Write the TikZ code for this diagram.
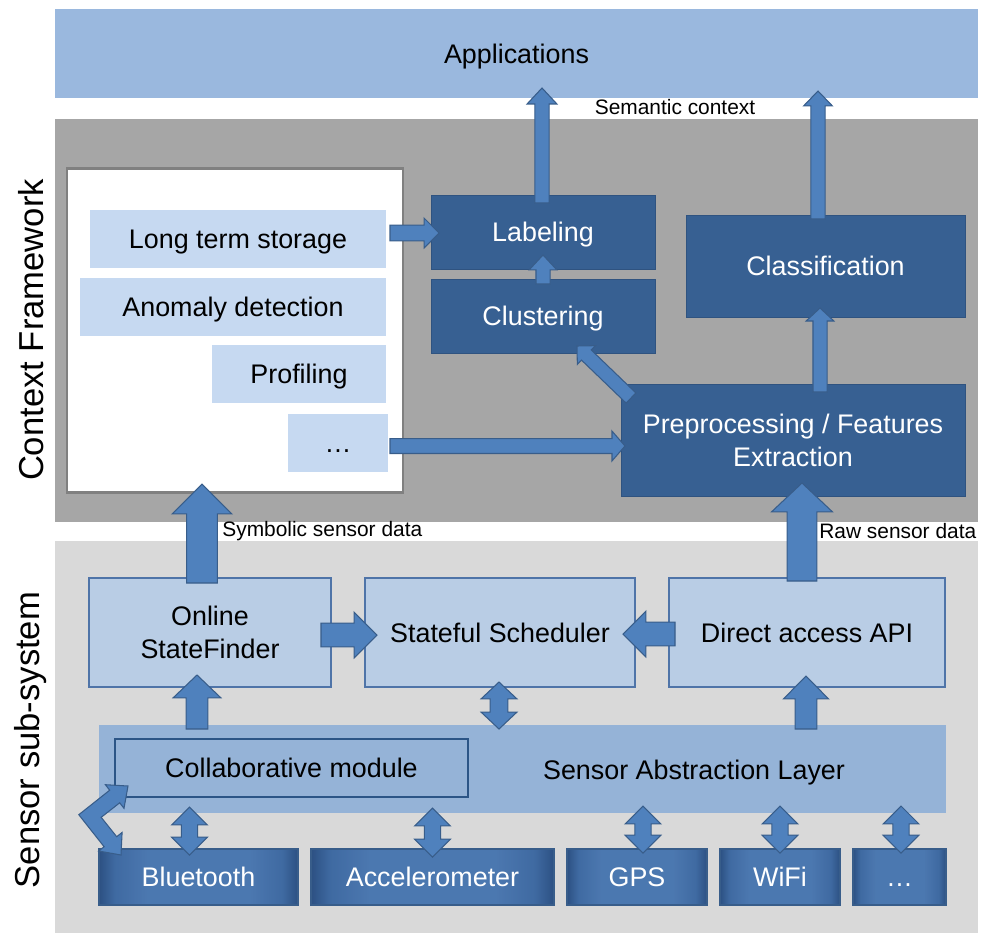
\documentclass[tikz,border=0pt]{standalone}
\usepackage{fontspec}
\setmainfont{Liberation Sans}
\usetikzlibrary{calc,fadings}
\definecolor{appC}{HTML}{9AB8DE}
\definecolor{salC}{HTML}{95B3D7}
\definecolor{cfC}{HTML}{A6A6A6}
\definecolor{ssC}{HTML}{D9D9D9}
\definecolor{storeC}{HTML}{C6D9F1}
\definecolor{darkC}{HTML}{376092}
\definecolor{darkB}{HTML}{2F5380}
\definecolor{lbC}{HTML}{B9CDE5}
\definecolor{lbB}{HTML}{4F74A8}
\definecolor{arrC}{HTML}{4F81BD}
\definecolor{arrB}{HTML}{385D8A}
\definecolor{colB}{HTML}{2C5586}
\definecolor{wbB}{HTML}{808080}
\definecolor{sensC}{HTML}{5F90CC}
\definecolor{sensM}{HTML}{4B7AB5}
\definecolor{sensE}{HTML}{2D5183}
\definecolor{sensB}{HTML}{385D8A}
\pgfdeclarehorizontalshading{sensorsh}{100bp}{color(0bp)=(sensE); color(25bp)=(sensE); color(29bp)=(sensM); color(37bp)=(sensC); color(63bp)=(sensC); color(71bp)=(sensM); color(75bp)=(sensE); color(100bp)=(sensE)}
\tikzfading[name=vfade, top color=transparent!62, middle color=transparent!100, bottom color=transparent!62]
\newcommand\fmain{\fontsize{15.3}{18.6}\selectfont}
\newcommand\fsmall{\fontsize{11.9}{14}\selectfont}
\newcommand\fbig{\fontsize{19.7}{24}\selectfont}
\newcommand\mybox[7][]{\node[#1, minimum width={(#4-#2)*0.02cm}, minimum height={(#5-#3)*0.02cm}] (#6) at ({(#2+#4)/2},{(#3+#5)/2}) {#7};}
% single block arrow: start, end, half shaft, half head, head length
\newcommand\barrow[5]{%
  \coordinate (ba-h) at ($(#2)!#5!(#1)$);
  \filldraw[blockarrow] ($(#1)!#3!90:(#2)$) -- ($(ba-h)!#3!90:(#2)$) -- ($(ba-h)!#4!90:(#2)$) -- (#2) -- ($(ba-h)!#4!-90:(#2)$) -- ($(ba-h)!#3!-90:(#2)$) -- ($(#1)!#3!-90:(#2)$) -- cycle;}
% double block arrow
\newcommand\dbarrow[5]{%
  \coordinate (da-a) at ($(#1)!#5!(#2)$);
  \coordinate (da-b) at ($(#2)!#5!(#1)$);
  \filldraw[blockarrow] (#1) -- ($(da-a)!#4!90:(#2)$) -- ($(da-a)!#3!90:(#2)$) -- ($(da-b)!#3!90:(#2)$) -- ($(da-b)!#4!90:(#2)$) -- (#2) -- ($(da-b)!#4!-90:(#2)$) -- ($(da-b)!#3!-90:(#2)$) -- ($(da-a)!#3!-90:(#2)$) -- ($(da-a)!#4!-90:(#2)$) -- cycle;}
\begin{document}
\begin{tikzpicture}[x=0.02cm, y=-0.02cm,
  band/.style={inner sep=0, outer sep=0},
  lightbox/.style={fill=storeC, inner sep=0, outer sep=0, font=\fmain, align=center, text depth=0pt},
  darkbox/.style={fill=darkC, draw=darkB, line width=0.5pt, inner sep=0, outer sep=0, text=white, font=\fmain, align=center, text depth=0pt},
  ssbox/.style={fill=lbC, draw=lbB, line width=0.8pt, inner sep=0, outer sep=0, font=\fmain, align=center, text depth=0pt},
  sensorbox/.style={shade, shading=sensorsh, draw=sensB, line width=0.6pt, inner sep=0, outer sep=0, text=white, font=\fmain, text depth=0pt,
    path picture={\fill[sensE, path fading=vfade] (path picture bounding box.south west) rectangle (path picture bounding box.north east);}},
  dotsbox/.style={text height=11pt},
  blockarrow/.style={fill=arrC, draw=arrB, line width=0.6pt, line join=miter},
  smalltext/.style={font=\fsmall, inner sep=0},
  sidetext/.style={font=\fbig, rotate=90, inner sep=0}]
\useasboundingbox (0,0) rectangle (981,934);
% bands
\mybox[band, fill=appC, font=\fmain, text depth=0pt]{55}{9}{978}{98}{app}{Applications}
\mybox[band, fill=cfC]{55}{119}{978}{522}{cfband}{}
\mybox[band, fill=ssC]{55}{541}{978}{933}{ssband}{}
\node[sidetext] (cflabel) at (31,330) {Context Framework};
\node[sidetext] (sslabel) at (31,740) {Sensor sub-system};
% context framework
\mybox[band, fill=white, draw=wbB, line width=1.7pt]{67}{168}{403}{492}{wb}{}
\mybox[lightbox]{90}{210}{386}{268}{lts}{Long term storage}
\mybox[lightbox]{80}{278}{386}{336}{ad}{Anomaly detection}
\mybox[lightbox]{212}{345}{386}{403}{prof}{Profiling}
\mybox[lightbox, dotsbox]{288}{414}{388}{472}{dots}{…}
\mybox[darkbox]{431}{195}{655}{269}{lab}{Labeling}
\mybox[darkbox]{431}{279}{655}{353}{clu}{Clustering}
\mybox[darkbox]{686}{215}{965}{317}{cls}{Classification}
\mybox[darkbox]{621}{384}{965}{496}{pre}{Preprocessing / Features\\Extraction}
% sensor sub-system
\mybox[ssbox]{89}{578}{331}{687}{osf}{Online\\StateFinder}
\mybox[ssbox]{365}{578}{635}{687}{sch}{Stateful Scheduler}
\mybox[ssbox]{669}{578}{945}{687}{dir}{Direct access API}
\mybox[band, fill=salC]{99}{725}{946}{813}{sal}{}
\node[font=\fmain, inner sep=0, text depth=0pt] (saltext) at (694,770) {Sensor Abstraction Layer};
\mybox[band, fill=salC, draw=colB, line width=1.3pt, font=\fmain, text depth=0pt]{115}{739}{468}{797}{col}{Collaborative module}
\mybox[sensorbox]{99}{849}{298}{905}{bt}{Bluetooth}
\mybox[sensorbox]{311}{849}{554}{905}{acc}{Accelerometer}
\mybox[sensorbox]{567}{849}{707}{905}{gps}{GPS}
\mybox[sensorbox]{720}{849}{840}{905}{wifi}{WiFi}
\mybox[sensorbox, dotsbox]{853}{849}{946}{905}{sdots}{…}
% labels
\node[smalltext] (semlbl) at (675,107) {Semantic context};
\node[smalltext, anchor=west] (symlbl) at (222,531) {Symbolic sensor data};
\node[smalltext, anchor=west] (rawlbl) at (819,531) {Raw sensor data};
% connector end points
\coordinate (labA) at ($(lab.north)+(-1,8)$);
\coordinate (labB) at ($(lab.north |- app.south)+(-1,-10)$);
\coordinate (clsA) at ($(cls.north)+(-7.5,4)$);
\coordinate (clsB) at ($(cls.north |- app.south)+(-7.5,-7)$);
\coordinate (cluA) at ($(clu.north)+(0,5)$);
\coordinate (cluB) at ($(lab.south)+(0,-14)$);
\coordinate (ltsA) at ($(lts.east)+(4,-6)$);
\coordinate (ltsB) at ($(lab.west)+(8,1)$);
\coordinate (dotA) at ($(dots.east)+(2,3)$);
\coordinate (dotB) at ($(pre.west)+(4,6)$);
\coordinate (diaA) at ($(pre.north west)+(10,14)$);
\coordinate (diaB) at ($(clu.south)+(34,-7)$);
\coordinate (preA) at ($(pre.north)+(27,8)$);
\coordinate (preB) at ($(cls.south)+(-5.5,-9)$);
\coordinate (symA) at ($(osf.north)+(-8,5)$);
\coordinate (symB) at ($(wb.south)+(-33,-8)$);
\coordinate (rawA) at ($(dir.north)+(-5,3)$);
\coordinate (rawB) at ($(pre.south)+(9,-13)$);
\coordinate (osfA) at ($(osf.east)+(-10,2.5)$);
\coordinate (osfB) at ($(sch.west)+(12,2.5)$);
\coordinate (dirA) at ($(dir.west)+(6,1.5)$);
\coordinate (dirB) at ($(sch.east)+(-12,1.5)$);
\coordinate (salA) at ($(osf.south)+(-13,42)$);
\coordinate (salB) at ($(osf.south)+(-13,-12)$);
\coordinate (sadA) at ($(dir.south)+(-1,42)$);
\coordinate (sadB) at ($(dir.south)+(-1,-11)$);
\coordinate (schA) at ($(sch.south)+(-1,-5)$);
\coordinate (schB) at ($(sal.north -| sch.south)+(-1,4)$);
\coordinate (btA) at ($(bt.north)+(-9,-42)$);
\coordinate (btB) at ($(bt.north)+(-9,6)$);
\coordinate (accA) at ($(acc.north)+(0,-41)$);
\coordinate (accB) at ($(acc.north)+(0,8)$);
\coordinate (gpsA) at ($(gps.north)+(6,-43)$);
\coordinate (gpsB) at ($(gps.north)+(6,4)$);
\coordinate (wifiA) at ($(wifi.north)+(0,-43)$);
\coordinate (wifiB) at ($(wifi.north)+(0,4)$);
\coordinate (sdA) at ($(sdots.north)+(1.5,-43)$);
\coordinate (sdB) at ($(sdots.north)+(1.5,4)$);
\coordinate (elb) at ($(col.south west)+(-25,19)$);
% connectors
\barrow{labA}{labB}{4.1pt}{8.5pt}{9.1pt}
\barrow{clsA}{clsB}{4.1pt}{8.2pt}{8.5pt}
\barrow{cluA}{cluB}{4pt}{7.9pt}{8.5pt}
\barrow{ltsA}{ltsB}{4.5pt}{8.5pt}{8.5pt}
\barrow{dotA}{dotB}{4.25pt}{8.5pt}{7.4pt}
\barrow{diaA}{diaB}{4pt}{7.4pt}{7.4pt}
\barrow{preA}{preB}{4pt}{7.9pt}{7.4pt}
\barrow{symA}{symB}{8.8pt}{17pt}{17pt}
\barrow{rawA}{rawB}{8.5pt}{17.3pt}{16.4pt}
\barrow{osfA}{osfB}{6.8pt}{13pt}{13pt}
\barrow{dirA}{dirB}{6.8pt}{13pt}{13pt}
\barrow{salA}{salB}{6.2pt}{13.6pt}{13pt}
\barrow{sadA}{sadB}{6.2pt}{12.8pt}{13pt}
\dbarrow{schA}{schB}{5.1pt}{10.2pt}{9.6pt}
\dbarrow{btA}{btB}{4.6pt}{10.2pt}{10.2pt}
\dbarrow{accA}{accB}{4.6pt}{10.2pt}{10.2pt}
\dbarrow{gpsA}{gpsB}{4.6pt}{10.2pt}{10.2pt}
\dbarrow{wifiA}{wifiB}{4.6pt}{10.2pt}{10.2pt}
\dbarrow{sdA}{sdB}{4.6pt}{10.2pt}{10.2pt}
\filldraw[blockarrow] ($(elb)+(38,-30)$) -- ($(elb)+(34,-7.7)$) -- ($(elb)+(29.7,-13.2)$) -- ($(elb)+(11.2,1.3)$) -- ($(elb)+(26.7,20.7)$) -- ($(elb)+(32.1,16.4)$) -- ($(elb)+(31,39)$) -- ($(elb)+(8.7,35)$) -- ($(elb)+(14.1,30.7)$) -- ($(elb)+(-11.2,-1.3)$) -- ($(elb)+(19.7,-25.8)$) -- ($(elb)+(15.4,-31.3)$) -- cycle;
\end{tikzpicture}
\end{document}
